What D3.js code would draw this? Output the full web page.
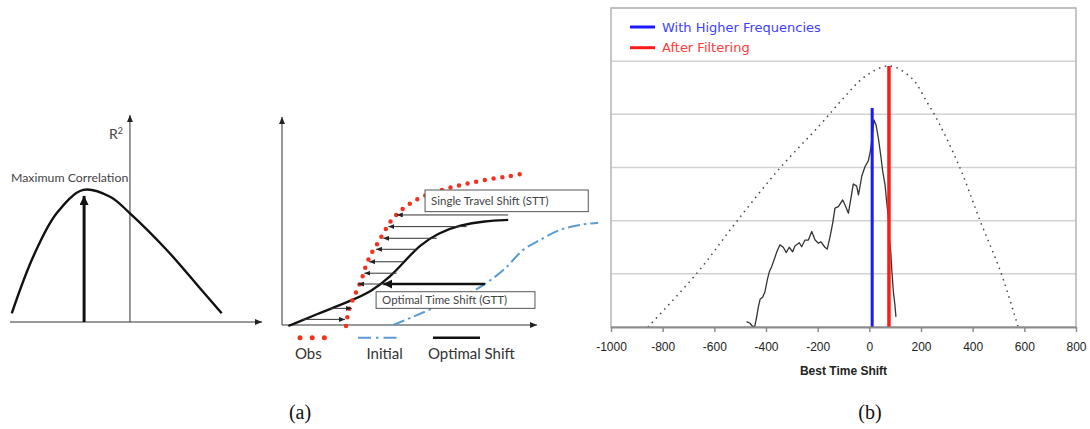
<!DOCTYPE html>
<html><head><meta charset="utf-8">
<script src="https://cdn.jsdelivr.net/npm/d3@7"></script>
<style>html,body{margin:0;padding:0;background:#fff}</style>
</head><body>
<svg id="fig" width="1090" height="429"></svg>
<script>
// ================= data =================
// (a) left: correlation (R²) against trial time lag, schematic units 0-100
const lagU = [0.7, 9.2, 18.5, 29.1, 39.7, 47.6, 62.2, 75.4, 84.0];
const r2U  = [4.2, 31.5, 52.5, 63.8, 60.5, 52.5, 34.8, 16.3, 4.2];
const maxLagU = 29.4, maxR2U = 60.9;      // arrow to the maximum
const r2AxisU = 47.6;                      // position of the R² axis

// (a) right: hydrographs, schematic units 0-100
const obsT = [25.1, 25.7, 26.7, 28.2, 29.8, 31.4, 32.9, 34.9, 37.3, 40.0, 42.7, 45.5, 49.4, 54.1, 60.0, 66.7, 73.7, 81.6, 89.4, 96.1];
const obsQ = [-0.5, 4.3, 9.1, 13.5, 17.8, 22.6, 28.4, 34.1, 38.9, 44.7, 50.0, 53.8, 57.7, 61.1, 63.9, 66.3, 68.3, 70.2, 71.6, 73.1];
const optT = [2.5, 14.9, 26.7, 35.3, 42.4, 48.2, 54.1, 61.2, 69.8, 79.6, 88.7];
const optQ = [-0.5, 5.8, 11.5, 16.3, 23.1, 30.8, 38.5, 44.2, 48.1, 50.0, 50.5];
const iniT = [43.6, 51.5, 60.7, 71.1, 78.9, 86.8, 94.6, 101.2, 109.0, 116.9, 124.0];
const iniQ = [0, 4.0, 8.8, 13.9, 19.2, 26.4, 36.1, 40.9, 45.7, 48.1, 49.2];
// single-travel shifts: level, from, to
const sttQ    = [52.9, 47.3, 41.7, 36.4, 30.4, 24.9, 19.7, 8.0, 2.7];
const sttFrom = [88.7, 72.4, 60.7, 52.8, 47.6, 45.0, 39.6, 18.8, 7.7];
const sttTo   = [45.0, 41.7, 39.7, 36.9, 34.2, 32.3, 29.8, 27.3, 24.7];
// global (optimal) time shift
const gttQ = 19.7, gttFrom = 79.6, gttTo = 39.7;
const sttLabel = "Single Travel Shift (STT)";
const gttLabel = "Optimal Time Shift (GTT)";
const legendA = ["Obs", "Initial", "Optimal Shift"];

// (b) correlation against time shift
const xTicks = [-1000, -800, -600, -400, -200, 0, 200, 400, 600, 800];
const yGrid  = [0.2, 0.4, 0.6, 0.8, 1.0, 1.2];
const envShift = [-857, -667, -512, -346, -191, -101, -17, 77, 164, 222, 267, 351, 429, 510, 576];
const envR     = [0, 0.203, 0.399, 0.598, 0.760, 0.860, 0.942, 0.982, 0.936, 0.848, 0.772, 0.598, 0.399, 0.203, 0];
const hfShift = [-475, -462, -451, -443, -436, -430, -423, -413, -404, -395, -387, -378, -369, -358, -346, -333, -322, -310, -297, -288, -271, -262, -249, -236, -223, -210, -197, -188, -172, -163, -152, -142, -133, -120, -103, -94, -81, -72, -62, -49, -42, -29, -17, -4, 5, 18, 26, 35, 44, 52, 61, 67, 74, 78, 83, 87, 93, 99, 103];
const hfR     = [0.020, 0.014, 0.001, 0.004, 0.039, 0.074, 0.104, 0.112, 0.133, 0.177, 0.208, 0.227, 0.252, 0.283, 0.309, 0.300, 0.280, 0.300, 0.283, 0.305, 0.317, 0.302, 0.327, 0.327, 0.359, 0.327, 0.315, 0.321, 0.300, 0.293, 0.340, 0.390, 0.447, 0.453, 0.478, 0.459, 0.428, 0.480, 0.538, 0.530, 0.497, 0.568, 0.603, 0.625, 0.666, 0.779, 0.760, 0.710, 0.647, 0.584, 0.534, 0.471, 0.410, 0.327, 0.282, 0.214, 0.133, 0.083, 0.038];
const bestShiftHigh = 11,  bestRHigh = 0.824;   // with higher frequencies
const bestShiftFilt = 76,  bestRFilt = 0.982;   // after filtering
const legendB = ["With Higher Frequencies", "After Filtering"];
const xTitle = "Best Time Shift";

// ================= drawing =================
const svg = d3.select("#fig");
const zip = (a, b) => a.map((v, i) => [v, b[i]]);

const defs = svg.append("defs");
function marker(id, w, h, color) {
  defs.append("marker").attr("id", id)
    .attr("markerUnits", "userSpaceOnUse")
    .attr("markerWidth", w).attr("markerHeight", h)
    .attr("refX", w).attr("refY", h / 2).attr("orient", "auto")
    .append("path").attr("d", `M0,0L${w},${h / 2}L0,${h}Z`).attr("fill", color);
}
marker("hThin", 6, 5, "#222");
marker("hAxis", 7, 6, "#222");
marker("hThick", 9, 9, "#111");

// ----- (a) left -----
const xL = d3.scaleLinear([0, 100], [10, 262]);
const yL = d3.scaleLinear([0, 100], [322, 115]);
const gL = svg.append("g");
gL.append("line").attr("x1", xL(0)).attr("x2", xL(100)).attr("y1", yL(0)).attr("y2", yL(0))
  .attr("stroke", "#333").attr("stroke-width", 1).attr("marker-end", "url(#hAxis)");
gL.append("line").attr("x1", xL(r2AxisU)).attr("x2", xL(r2AxisU)).attr("y1", yL(0)).attr("y2", yL(100))
  .attr("stroke", "#333").attr("stroke-width", 1).attr("marker-end", "url(#hAxis)");
gL.append("path").attr("d", d3.line().x(d => xL(d[0])).y(d => yL(d[1])).curve(d3.curveCatmullRom)(zip(lagU, r2U)))
  .attr("fill", "none").attr("stroke", "#111").attr("stroke-width", 2.4);
gL.append("line").attr("x1", xL(maxLagU)).attr("x2", xL(maxLagU)).attr("y1", yL(0)).attr("y2", yL(maxR2U))
  .attr("stroke", "#111").attr("stroke-width", 3).attr("marker-end", "url(#hThick)");
gL.append("text").attr("x", 11).attr("y", 181.5)
  .attr("font-family", "Lato, sans-serif").attr("font-size", 12.3).attr("fill", "#444")
  .text("Maximum Correlation");
const r2t = gL.append("text").attr("x", 109).attr("y", 139)
  .attr("font-family", "Lato, sans-serif").attr("font-size", 14).attr("fill", "#444");
r2t.append("tspan").text("R");
r2t.append("tspan").attr("dy", -5).attr("font-size", 9).text("2");

// ----- (a) right -----
const xR = d3.scaleLinear([0, 100], [282, 537]);
const yR = d3.scaleLinear([0, 100], [325, 117]);
const gR = svg.append("g");
const lineR = d3.line().x(d => xR(d[0])).y(d => yR(d[1])).curve(d3.curveCatmullRom);
gR.append("line").attr("x1", xR(0)).attr("x2", xR(100)).attr("y1", yR(0)).attr("y2", yR(0))
  .attr("stroke", "#333").attr("stroke-width", 1).attr("marker-end", "url(#hAxis)");
gR.append("line").attr("x1", xR(0)).attr("x2", xR(0)).attr("y1", yR(0)).attr("y2", yR(100))
  .attr("stroke", "#333").attr("stroke-width", 1).attr("marker-end", "url(#hAxis)");

const iniDash = "12 4 2.5 4";
gR.append("path").attr("d", lineR(zip(iniT, iniQ)))
  .attr("fill", "none").attr("stroke", "#5b9bd5").attr("stroke-width", 2).attr("stroke-dasharray", iniDash);
gR.append("path").attr("d", d3.line().x(d => xR(d[0])).y(d => yR(d[1])).curve(d3.curveBasis)(zip(optT, optQ)))
  .attr("fill", "none").attr("stroke", "#111").attr("stroke-width", 2.3);
gR.append("path").attr("d", lineR(zip(obsT, obsQ)))
  .attr("fill", "none").attr("stroke", "#f2321e").attr("stroke-width", 4.5)
  .attr("stroke-linecap", "round").attr("stroke-dasharray", "0 8.8");

// text boxes
function box(x0, x1, yTop, yBot, label) {
  gR.append("rect").attr("x", xR(x0)).attr("y", yR(yTop))
    .attr("width", xR(x1) - xR(x0)).attr("height", yR(yBot) - yR(yTop))
    .attr("fill", "#fff").attr("stroke", "#555").attr("stroke-width", 1);
  gR.append("text").attr("x", xR(x0) + 6).attr("y", (yR(yTop) + yR(yBot)) / 2 + 4)
    .attr("font-family", "Lato, sans-serif").attr("font-size", 11.5).attr("fill", "#444").text(label);
}
box(56.1, 120.1, 64.9, 54.5, sttLabel);
box(36.9, 99.2, 16.0, 8.0, gttLabel);

// shift arrows
gR.selectAll("line.stt").data(sttQ).join("line").attr("class", "stt")
  .attr("x1", (d, i) => xR(sttFrom[i])).attr("x2", (d, i) => xR(sttTo[i]))
  .attr("y1", d => yR(d)).attr("y2", d => yR(d))
  .attr("stroke", "#333").attr("stroke-width", 1).attr("marker-end", "url(#hThin)");
gR.append("line").attr("x1", xR(gttFrom)).attr("x2", xR(gttTo)).attr("y1", yR(gttQ)).attr("y2", yR(gttQ))
  .attr("stroke", "#111").attr("stroke-width", 2.5).attr("marker-end", "url(#hThick)");

// legend of (a)
const legY = 337.7;
gR.selectAll("circle.obsKey").data([0, 1, 2]).join("circle").attr("class", "obsKey")
  .attr("cx", d => 300 + d * 12.2).attr("cy", legY).attr("r", 2.5).attr("fill", "#f2321e");
gR.append("line").attr("x1", 358).attr("x2", 401).attr("y1", legY).attr("y2", legY)
  .attr("stroke", "#5b9bd5").attr("stroke-width", 2).attr("stroke-dasharray", "13 5 2.5 5");
gR.append("line").attr("x1", 433).attr("x2", 480).attr("y1", legY).attr("y2", legY)
  .attr("stroke", "#111").attr("stroke-width", 2.5);
gR.selectAll("text.legA").data(legendA).join("text").attr("class", "legA")
  .attr("x", (d, i) => [295, 366.5, 428][i]).attr("y", 359)
  .attr("font-family", "Lato, sans-serif").attr("font-size", 15).attr("fill", "#333").text(d => d);

// ----- (b) -----
const xB = d3.scaleLinear([-1000, 800], [611, 1076]);
const yB = d3.scaleLinear([0, 1.2], [327, 8]);
const gB = svg.append("g");
defs.append("clipPath").attr("id", "plotB").append("rect")
  .attr("x", xB(-1000)).attr("y", yB(1.2)).attr("width", xB(800) - xB(-1000)).attr("height", yB(0) - yB(1.2));

gB.selectAll("line.grid").data(yGrid).join("line").attr("class", "grid")
  .attr("x1", xB(-1000)).attr("x2", xB(800)).attr("y1", d => yB(d)).attr("y2", d => yB(d))
  .attr("stroke", "#d2d2d2").attr("stroke-width", 1.5);
gB.append("rect").attr("x", xB(-1000)).attr("y", yB(1.2))
  .attr("width", xB(800) - xB(-1000)).attr("height", yB(0) - yB(1.2))
  .attr("fill", "none").attr("stroke", "#b4b4b4").attr("stroke-width", 1.5);

const plot = gB.append("g").attr("clip-path", "url(#plotB)");
plot.append("path").attr("d", d3.line().x(d => xB(d[0])).y(d => yB(d[1])).curve(d3.curveCatmullRom)(zip(envShift, envR)))
  .attr("fill", "none").attr("stroke", "#444").attr("stroke-width", 1.5).attr("stroke-dasharray", "1.5 4.5");
plot.append("path").attr("d", d3.line().x(d => xB(d[0])).y(d => yB(d[1]))(zip(hfShift, hfR)))
  .attr("fill", "none").attr("stroke", "#333").attr("stroke-width", 1.3).attr("stroke-linejoin", "round");
plot.append("line").attr("x1", xB(bestShiftHigh)).attr("x2", xB(bestShiftHigh)).attr("y1", yB(0)).attr("y2", yB(bestRHigh))
  .attr("stroke", "#1a1aff").attr("stroke-width", 3);
plot.append("line").attr("x1", xB(bestShiftFilt)).attr("x2", xB(bestShiftFilt)).attr("y1", yB(0)).attr("y2", yB(bestRFilt))
  .attr("stroke", "#ff1a1a").attr("stroke-width", 3.5);

const ax = gB.append("g").attr("transform", `translate(0,${yB(0)})`)
  .call(d3.axisBottom(xB).tickValues(xTicks).tickSize(5).tickSizeOuter(0).tickFormat(d => String(d)));
ax.select(".domain").attr("stroke", "#8c8c8c").attr("stroke-width", 2);
ax.selectAll(".tick line").attr("stroke", "#8c8c8c").attr("stroke-width", 1.5);
ax.selectAll(".tick text").attr("font-family", "'Liberation Sans', Arial, sans-serif").attr("font-size", 12)
  .attr("fill", "#222").attr("dy", null).attr("y", 24);
gB.append("text").attr("x", (xB(-1000) + xB(800)) / 2).attr("y", 375).attr("text-anchor", "middle")
  .attr("font-family", "'Liberation Sans', Arial, sans-serif").attr("font-size", 12).attr("font-weight", "bold")
  .attr("fill", "#222").text(xTitle);

// legend of (b)
const legB = gB.selectAll("g.legB").data(legendB).join("g").attr("class", "legB")
  .attr("transform", (d, i) => `translate(630,${27 + i * 20.7})`);
legB.append("line").attr("x1", 0).attr("x2", 25).attr("y1", 0).attr("y2", 0)
  .attr("stroke", (d, i) => i ? "#ff1a1a" : "#1a1aff").attr("stroke-width", 3);
legB.append("text").attr("x", 32).attr("y", 4.5)
  .attr("font-family", "'DejaVu Sans', Verdana, sans-serif").attr("font-size", 13)
  .attr("fill", (d, i) => i ? "#ff3a3a" : "#4040ff").text(d => d);

// panel captions
svg.selectAll("text.cap").data(["(a)", "(b)"]).join("text").attr("class", "cap")
  .attr("x", (d, i) => [300, 870][i]).attr("y", 419).attr("text-anchor", "middle")
  .attr("font-family", "'Liberation Serif', 'Times New Roman', serif").attr("font-size", 20)
  .attr("fill", "#111").text(d => d);
</script>
</body></html>
